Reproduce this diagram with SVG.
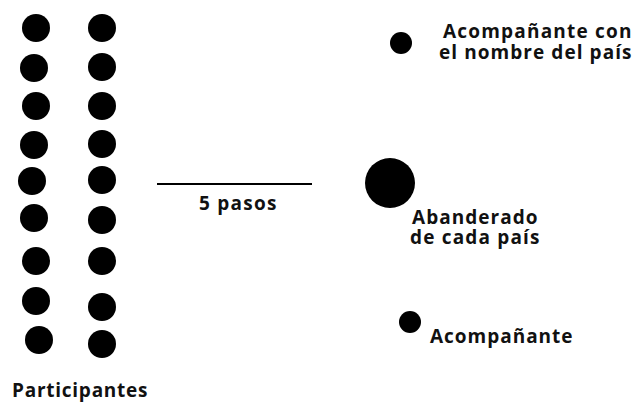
<svg xmlns="http://www.w3.org/2000/svg" width="638" height="403" viewBox="0 0 638 403">
<style>
.d{fill:#000}
.t{font-family:"Open Sans","DejaVu Sans",sans-serif;font-weight:bold;font-size:19px;fill:#111;letter-spacing:0.5px}
</style>
<rect width="638" height="403" fill="#fff"/>
<g id="participantes">
<circle class="d" cx="36" cy="28" r="14"/>
<circle class="d" cx="34" cy="68" r="14"/>
<circle class="d" cx="36" cy="106" r="14"/>
<circle class="d" cx="34" cy="145" r="14"/>
<circle class="d" cx="32" cy="181" r="14"/>
<circle class="d" cx="34" cy="218" r="14"/>
<circle class="d" cx="36" cy="261" r="14"/>
<circle class="d" cx="36" cy="301" r="14"/>
<circle class="d" cx="39" cy="340" r="14"/>
<circle class="d" cx="102" cy="28" r="14"/>
<circle class="d" cx="102" cy="67" r="14"/>
<circle class="d" cx="102" cy="106" r="14"/>
<circle class="d" cx="102" cy="144" r="14"/>
<circle class="d" cx="102" cy="180" r="14"/>
<circle class="d" cx="102" cy="220" r="14"/>
<circle class="d" cx="102" cy="261" r="14"/>
<circle class="d" cx="102" cy="307" r="14"/>
<circle class="d" cx="102" cy="344" r="14"/>
<text class="t" x="12" y="397" textLength="136">Participantes</text>
</g>
<g id="connectors">
<line x1="157" y1="184" x2="312" y2="184" stroke="#000" stroke-width="2"/>
<text class="t" x="199" y="210" textLength="78">5 pasos</text>
</g>
<g id="acompanante-nombre">
<circle class="d" cx="401" cy="43" r="11"/>
<text class="t" x="443" y="38" textLength="189">Acompañante con</text>
<text class="t" x="439" y="59" textLength="193">el nombre del país</text>
</g>
<g id="abanderado">
<circle class="d" cx="390" cy="183" r="25"/>
<text class="t" x="412" y="224" textLength="126">Abanderado</text>
<text class="t" x="410" y="244" textLength="130">de cada país</text>
</g>
<g id="acompanante">
<circle class="d" cx="410" cy="322" r="11"/>
<text class="t" x="430" y="343" textLength="143">Acompañante</text>
</g>
</svg>
